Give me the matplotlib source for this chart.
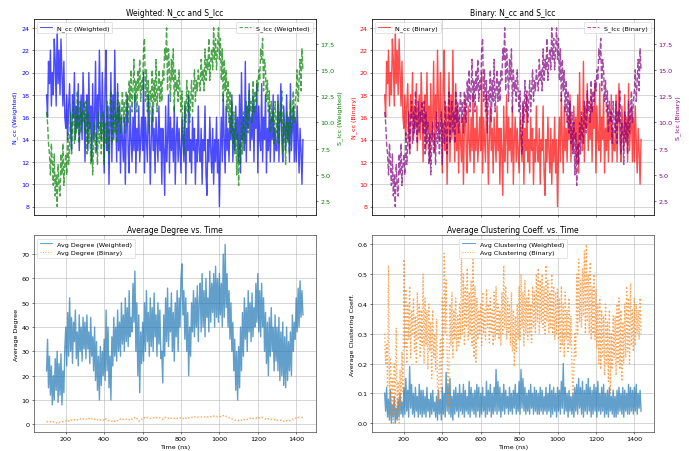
import numpy as np
import matplotlib
matplotlib.use("Agg")
import matplotlib.pyplot as plt

# --- 时间轴 (ns), 每 5 ns 一个采样 ---
time_ns = np.arange(100, 1440, 5)

# --- N_cc (连通分量数), 每行 100 ns ---
n_cc_weighted = [
    18, 16, 21, 19, 22, 17, 20, 18, 23, 21, 17, 24, 19, 22, 18, 23, 20, 17, 21, 16,
    15, 18, 14, 17, 19, 15, 13, 18, 16, 20, 14, 17, 15, 19, 13, 16, 18, 14, 20, 17,
    12, 16, 18, 13, 20, 15, 17, 12, 19, 14, 16, 21, 13, 18, 15, 22, 17, 14, 20, 16,
    11, 19, 22, 13, 17, 10, 15, 20, 12, 18, 14, 22, 16, 12, 19, 13, 17, 11, 16, 14,
    12, 16, 10, 15, 18, 13, 11, 17, 14, 12, 16, 13, 18, 11, 15, 13, 17, 12, 14, 16,
    13, 20, 11, 16, 14, 12, 18, 15, 10, 14, 17, 13, 15, 11, 16, 14, 12, 17, 13, 15,
    10, 15, 13, 9, 17, 12, 14, 18, 11, 16, 13, 15, 12, 17, 10, 14, 16, 12, 15, 13,
    11, 16, 14, 12, 17, 10, 15, 13, 18, 12, 14, 11, 16, 13, 15, 10, 14, 12, 17, 13,
    12, 15, 10, 14, 13, 17, 11, 9, 14, 12, 16, 13, 11, 15, 10, 14, 12, 16, 11, 14,
    8, 13, 16, 12, 18, 14, 11, 17, 13, 15, 12, 16, 14, 18, 12, 15, 13, 17, 14, 16,
    12, 18, 11, 20, 14, 16, 13, 21, 12, 17, 15, 19, 13, 16, 14, 18, 12, 17, 15, 19,
    11, 17, 14, 13, 19, 12, 16, 14, 18, 11, 15, 13, 17, 12, 16, 14, 18, 12, 15, 13,
    13, 18, 12, 16, 19, 14, 12, 17, 15, 13, 18, 14, 16, 12, 19, 13, 15, 17, 12, 16,
    12, 17, 14, 11, 15, 13, 10, 14,
]
n_cc_binary = list(n_cc_weighted)

# --- S_lcc (最大连通分量大小) ---
s_lcc_weighted = [
    11, 10, 8, 7, 5, 8, 6, 4, 7, 3, 5, 2, 6, 4, 3, 7, 5, 8, 4, 6,
    7, 5, 9, 6, 8, 11, 7, 10, 12, 8, 11, 9, 13, 10, 8, 12, 9, 11, 10, 12,
    9, 12, 7, 11, 8, 10, 6, 9, 5, 8, 10, 7, 9, 6, 11, 8, 10, 7, 9, 11,
    6, 10, 8, 12, 9, 7, 11, 13, 8, 10, 12, 9, 11, 8, 13, 10, 12, 9, 11, 13,
    10, 12, 9, 13, 11, 10, 14, 12, 15, 11, 13, 16, 12, 14, 11, 15, 13, 16, 12, 14,
    13, 17, 18, 12, 15, 11, 14, 9, 13, 12, 15, 10, 14, 12, 16, 11, 13, 15, 12, 14,
    12, 15, 14, 17, 16, 19, 13, 17, 15, 12, 16, 14, 17, 11, 15, 13, 14, 12, 15, 13,
    11, 13, 9, 7, 12, 10, 14, 11, 13, 10, 12, 14, 11, 13, 15, 12, 14, 13, 15, 14,
    13, 16, 14, 15, 13, 17, 14, 16, 15, 18, 14, 16, 17, 15, 19, 16, 18, 15, 17, 19,
    16, 18, 14, 17, 12, 16, 13, 15, 11, 14, 10, 13, 9, 12, 8, 11, 7, 10, 5, 9,
    4, 8, 6, 10, 7, 11, 9, 8, 12, 10, 9, 13, 11, 12, 10, 14, 11, 13, 12, 14,
    13, 15, 14, 17, 16, 18, 13, 16, 15, 12, 14, 11, 13, 9, 12, 10, 11, 8, 12, 10,
    9, 12, 8, 11, 10, 13, 7, 10, 9, 6, 11, 8, 10, 7, 12, 9, 11, 13, 10, 12,
    13, 15, 12, 14, 16, 13, 17, 15,
]
s_lcc_binary = list(s_lcc_weighted)

# --- 平均度 ---
deg_weighted = [
    22, 35, 15, 28, 12, 24, 8, 20, 10, 27, 14, 30, 9, 25, 12, 29, 8, 22, 13, 31,
    40, 24, 46, 28, 52, 30, 44, 25, 42, 34, 47, 27, 38, 24, 45, 30, 40, 26, 44, 31,
    42, 27, 45, 31, 38, 25, 44, 28, 36, 22, 40, 18, 34, 14, 28, 10, 32, 16, 30, 20,
    35, 18, 47, 22, 40, 15, 28, 10, 36, 24, 44, 28, 40, 26, 47, 30, 42, 28, 50, 33,
    45, 30, 52, 34, 48, 32, 55, 36, 44, 38, 58, 42, 63, 30, 50, 20, 45, 13, 38, 25,
    42, 26, 50, 30, 55, 34, 46, 28, 52, 32, 48, 30, 54, 36, 45, 28, 50, 33, 47, 27,
    30, 17, 45, 28, 52, 34, 56, 32, 48, 38, 54, 30, 46, 26, 50, 36, 55, 30, 52, 40,
    60, 66, 45, 55, 35, 52, 30, 46, 20, 40, 28, 50, 38, 55, 36, 52, 40, 57, 34, 50,
    58, 38, 62, 40, 55, 36, 60, 44, 52, 38, 63, 42, 58, 46, 62, 40, 65, 44, 60, 42,
    62, 45, 58, 40, 70, 44, 74, 48, 62, 40, 55, 35, 50, 30, 42, 22, 35, 14, 30, 10,
    32, 15, 40, 22, 46, 28, 52, 35, 48, 30, 55, 38, 50, 34, 54, 36, 48, 40, 58, 42,
    62, 38, 55, 36, 58, 40, 52, 30, 46, 25, 42, 20, 44, 28, 48, 30, 40, 22, 45, 26,
    40, 22, 44, 18, 38, 20, 42, 16, 36, 15, 40, 18, 34, 22, 38, 20, 45, 30, 42, 35,
    52, 38, 56, 40, 59, 44, 55, 45,
]
deg_binary = [
    1.3, 1.0, 1.2, 0.9, 1.1, 0.8, 0.7, 1.0, 0.6, 0.9, 0.7, 0.5, 0.8, 0.6, 0.9, 0.7, 1.0, 1.1, 0.9, 1.2,
    1.4, 1.2, 1.6, 1.3, 1.8, 1.5, 1.7, 2.0, 1.6, 1.9, 1.7, 2.1, 1.8, 2.3, 2.0, 2.2, 2.4, 2.1, 2.3, 2.0,
    2.4, 2.1, 2.3, 2.0, 2.5, 2.2, 1.9, 2.3, 2.0, 1.7, 2.1, 1.8, 1.5, 1.9, 1.6, 1.4, 1.8, 1.5, 1.3, 1.6,
    2.4, 2.0, 2.2, 1.8, 1.6, 1.4, 1.2, 1.0, 1.3, 0.9, 1.4, 1.2, 1.6, 1.8, 1.5, 2.0, 1.8, 2.2, 1.9, 1.7,
    2.1, 1.9, 2.3, 2.0, 2.2, 2.4, 2.0, 1.8, 2.3, 2.1, 2.6, 2.4, 3.0, 2.7, 2.5, 1.6, 1.2, 1.8, 2.2, 2.0,
    2.5, 2.3, 2.8, 2.6, 2.4, 2.9, 3.0, 2.7, 2.5, 2.3, 2.2, 2.6, 2.8, 2.4, 2.6, 2.9, 2.7, 2.5, 2.8, 2.4,
    2.2, 2.0, 2.6, 2.4, 2.9, 2.7, 2.4, 2.6, 2.8, 2.3, 2.5, 2.9, 2.7, 2.4, 2.6, 2.2, 2.4, 2.8, 2.6, 2.5,
    2.9, 2.7, 2.5, 2.2, 1.9, 2.4, 3.0, 2.8, 2.6, 2.9, 3.2, 3.0, 2.8, 3.1, 3.3, 2.9, 3.1, 2.8, 3.0, 3.2,
    3.2, 3.0, 3.1, 3.4, 3.2, 2.9, 3.1, 3.3, 3.0, 3.2, 3.5, 3.1, 3.3, 3.0, 3.4, 3.2, 3.1, 3.3, 3.0, 3.2,
    3.4, 3.1, 2.9, 3.3, 3.6, 3.2, 3.0, 3.3, 3.1, 2.8, 2.6, 2.9, 2.4, 2.2, 2.0, 1.8, 1.9, 1.5, 1.4, 1.7,
    1.5, 1.8, 2.0, 1.7, 2.1, 2.3, 1.9, 2.2, 2.4, 2.0, 2.3, 2.1, 2.5, 2.2, 2.6, 2.4, 2.2, 2.5, 2.3, 2.6,
    2.2, 2.5, 2.8, 3.0, 2.7, 2.9, 2.6, 2.4, 2.2, 2.5, 2.0, 2.3, 2.1, 1.8, 2.0, 2.2, 1.9, 2.1, 1.8, 2.0,
    1.6, 1.8, 1.9, 1.5, 1.7, 1.4, 1.6, 1.3, 1.5, 1.8, 1.4, 1.6, 1.9, 1.5, 1.7, 2.0, 2.2, 1.9, 2.4, 2.5,
    2.6, 2.8, 2.5, 2.9, 2.7, 3.0, 2.8, 3.1,
]

# --- 平均聚类系数 ---
clust_weighted = [
    0.10, 0.04, 0.12, 0.02, 0.08, 0.01, 0.11, 0.00, 0.06, 0.02, 0.09, 0.00, 0.05, 0.01, 0.08, 0.02, 0.10, 0.03, 0.07, 0.02,
    0.12, 0.03, 0.15, 0.04, 0.11, 0.02, 0.19, 0.05, 0.13, 0.03, 0.10, 0.02, 0.12, 0.04, 0.09, 0.02, 0.13, 0.03, 0.11, 0.02,
    0.11, 0.03, 0.09, 0.02, 0.12, 0.04, 0.08, 0.02, 0.10, 0.03, 0.11, 0.04, 0.07, 0.02, 0.09, 0.01, 0.11, 0.03, 0.08, 0.01,
    0.12, 0.03, 0.10, 0.02, 0.17, 0.04, 0.13, 0.03, 0.15, 0.02, 0.09, 0.01, 0.11, 0.03, 0.12, 0.04, 0.10, 0.02, 0.13, 0.04,
    0.10, 0.03, 0.13, 0.02, 0.11, 0.04, 0.09, 0.03, 0.14, 0.02, 0.12, 0.04, 0.10, 0.03, 0.11, 0.02, 0.13, 0.04, 0.12, 0.02,
    0.10, 0.03, 0.12, 0.04, 0.09, 0.02, 0.14, 0.03, 0.11, 0.04, 0.13, 0.02, 0.10, 0.03, 0.12, 0.04, 0.18, 0.03, 0.14, 0.04,
    0.12, 0.02, 0.10, 0.04, 0.13, 0.03, 0.11, 0.05, 0.09, 0.03, 0.12, 0.04, 0.10, 0.03, 0.11, 0.05, 0.13, 0.03, 0.10, 0.04,
    0.14, 0.03, 0.18, 0.05, 0.15, 0.04, 0.12, 0.03, 0.10, 0.04, 0.11, 0.03, 0.13, 0.05, 0.10, 0.03, 0.12, 0.04, 0.11, 0.03,
    0.10, 0.03, 0.12, 0.04, 0.11, 0.03, 0.09, 0.04, 0.12, 0.03, 0.10, 0.04, 0.13, 0.02, 0.11, 0.03, 0.12, 0.04, 0.10, 0.02,
    0.12, 0.04, 0.11, 0.03, 0.14, 0.05, 0.20, 0.03, 0.12, 0.04, 0.10, 0.02, 0.11, 0.04, 0.09, 0.03, 0.10, 0.02, 0.12, 0.04,
    0.13, 0.03, 0.15, 0.05, 0.12, 0.03, 0.14, 0.02, 0.11, 0.04, 0.13, 0.03, 0.15, 0.04, 0.12, 0.02, 0.11, 0.03, 0.13, 0.04,
    0.12, 0.02, 0.14, 0.04, 0.10, 0.03, 0.12, 0.04, 0.13, 0.02, 0.10, 0.03, 0.11, 0.02, 0.12, 0.04, 0.09, 0.03, 0.11, 0.02,
    0.09, 0.02, 0.11, 0.03, 0.12, 0.04, 0.10, 0.03, 0.12, 0.02, 0.11, 0.04, 0.10, 0.03, 0.13, 0.03, 0.12, 0.04, 0.11, 0.03,
    0.12, 0.04, 0.13, 0.03, 0.10, 0.05, 0.11, 0.04,
]
clust_binary = [
    0.30, 0.20, 0.27, 0.12, 0.53, 0.08, 0.22, 0.02, 0.15, 0.00, 0.20, 0.03, 0.32, 0.05, 0.14, 0.00, 0.18, 0.06, 0.24, 0.10,
    0.55, 0.25, 0.45, 0.20, 0.40, 0.28, 0.46, 0.22, 0.38, 0.30, 0.42, 0.24, 0.36, 0.20, 0.44, 0.28, 0.40, 0.22, 0.38, 0.26,
    0.50, 0.20, 0.42, 0.26, 0.38, 0.18, 0.40, 0.24, 0.34, 0.15, 0.38, 0.22, 0.30, 0.18, 0.35, 0.12, 0.07, 0.20, 0.28, 0.10,
    0.42, 0.22, 0.57, 0.30, 0.48, 0.25, 0.05, 0.20, 0.40, 0.26, 0.44, 0.22, 0.38, 0.28, 0.42, 0.24, 0.36, 0.26, 0.40, 0.28,
    0.58, 0.30, 0.50, 0.26, 0.46, 0.32, 0.52, 0.28, 0.44, 0.30, 0.48, 0.26, 0.55, 0.22, 0.46, 0.20, 0.42, 0.28, 0.38, 0.30,
    0.40, 0.26, 0.44, 0.30, 0.38, 0.28, 0.45, 0.32, 0.40, 0.27, 0.42, 0.30, 0.38, 0.26, 0.44, 0.28, 0.46, 0.30, 0.40, 0.28,
    0.38, 0.26, 0.44, 0.30, 0.53, 0.32, 0.46, 0.28, 0.42, 0.30, 0.40, 0.26, 0.44, 0.24, 0.38, 0.19, 0.36, 0.24, 0.40, 0.28,
    0.46, 0.28, 0.50, 0.32, 0.44, 0.26, 0.48, 0.30, 0.42, 0.28, 0.45, 0.30, 0.40, 0.27, 0.46, 0.32, 0.44, 0.30, 0.50, 0.34,
    0.52, 0.30, 0.48, 0.34, 0.50, 0.32, 0.46, 0.30, 0.53, 0.34, 0.48, 0.30, 0.44, 0.32, 0.50, 0.30, 0.46, 0.28, 0.44, 0.30,
    0.45, 0.28, 0.42, 0.24, 0.46, 0.26, 0.40, 0.22, 0.44, 0.28, 0.38, 0.24, 0.42, 0.26, 0.36, 0.20, 0.10, 0.18, 0.30, 0.22,
    0.50, 0.30, 0.55, 0.34, 0.48, 0.32, 0.52, 0.36, 0.58, 0.30, 0.60, 0.34, 0.50, 0.30, 0.54, 0.28, 0.46, 0.30, 0.50, 0.28,
    0.45, 0.25, 0.40, 0.20, 0.42, 0.18, 0.38, 0.22, 0.36, 0.16, 0.40, 0.20, 0.34, 0.14, 0.38, 0.10, 0.30, 0.18, 0.36, 0.22,
    0.36, 0.16, 0.40, 0.20, 0.42, 0.18, 0.38, 0.14, 0.34, 0.20, 0.40, 0.22, 0.46, 0.24, 0.42, 0.20, 0.47, 0.26, 0.38, 0.24,
    0.42, 0.26, 0.40, 0.30, 0.38, 0.28, 0.42, 0.30,
]

LW = 2.2  # 数据线稍粗, 使密集噪声带更饱满


def add_legend(ax, loc):
    # 图例里的线恢复默认粗细
    leg = ax.legend(loc=loc)
    for line in leg.get_lines():
        line.set_linewidth(1.5)
    return leg


fig, axes = plt.subplots(2, 2, figsize=(15, 9.84), sharex=True)
fig.subplots_adjust(left=0.049, right=0.949, top=0.956, bottom=0.042,
                    wspace=0.199, hspace=0.102)

# --- 加权: N_cc 和 S_lcc ---
ax1 = axes[0, 0]
ax1.plot(time_ns, n_cc_weighted, color='blue', alpha=0.7, lw=LW,
         label='N_cc (Weighted)')
ax1.set_ylabel('N_cc (Weighted)', color='blue')
ax1.tick_params(axis='y', labelcolor='blue')
ax1.grid(True)
ax1.set_title('Weighted: N_cc and S_lcc')
add_legend(ax1, 'upper left')
ax1b = ax1.twinx()
ax1b.plot(time_ns, s_lcc_weighted, color='green', linestyle='--', alpha=0.7,
          lw=LW, label='S_lcc (Weighted)')
ax1b.set_ylabel('S_lcc (Weighted)', color='green')
ax1b.tick_params(axis='y', labelcolor='green')
add_legend(ax1b, 'upper right')

# --- 二值: N_cc 和 S_lcc ---
ax2 = axes[0, 1]
ax2.plot(time_ns, n_cc_binary, color='red', alpha=0.7, lw=LW,
         label='N_cc (Binary)')
ax2.set_ylabel('N_cc (Binary)', color='red')
ax2.tick_params(axis='y', labelcolor='red')
ax2.grid(True)
ax2.set_title('Binary: N_cc and S_lcc')
add_legend(ax2, 'upper left')
ax2b = ax2.twinx()
ax2b.plot(time_ns, s_lcc_binary, color='purple', linestyle='--', alpha=0.7,
          lw=LW, label='S_lcc (Binary)')
ax2b.set_ylabel('S_lcc (Binary)', color='purple')
ax2b.tick_params(axis='y', labelcolor='purple')
add_legend(ax2b, 'upper right')

# --- 平均度 ---
ax3 = axes[1, 0]
ax3.plot(time_ns, deg_weighted, alpha=0.7, lw=LW, label='Avg Degree (Weighted)')
ax3.plot(time_ns, deg_binary, linestyle=':', alpha=0.7, lw=LW,
         label='Avg Degree (Binary)')
ax3.set_title('Average Degree vs. Time')
ax3.set_xlabel('Time (ns)')
ax3.set_ylabel('Average Degree')
ax3.grid(True)
add_legend(ax3, 'upper left')

# --- 平均聚类系数 ---
ax4 = axes[1, 1]
ax4.plot(time_ns, clust_weighted, alpha=0.7, lw=LW,
         label='Avg Clustering (Weighted)')
ax4.plot(time_ns, clust_binary, linestyle=':', alpha=0.7, lw=LW,
         label='Avg Clustering (Binary)')
ax4.set_title('Average Clustering Coeff. vs. Time')
ax4.set_xlabel('Time (ns)')
ax4.set_ylabel('Average Clustering Coeff.')
ax4.grid(True)
add_legend(ax4, 'upper center')

fig.savefig('out.png', dpi=689 / 15)
